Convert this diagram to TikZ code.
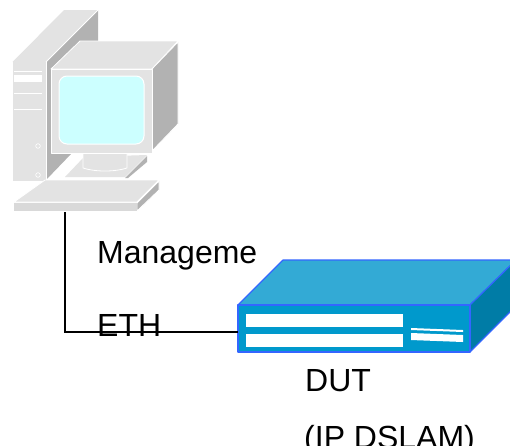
\documentclass[tikz,border=0pt]{standalone}
\usepackage{fontspec}
\setmainfont{Liberation Sans}
\definecolor{pclight}{HTML}{E3E3E3}
\definecolor{pcdark}{HTML}{B2B2B2}
\definecolor{pcscreen}{HTML}{CCFFFF}
\definecolor{dutfront}{HTML}{0099CC}
\definecolor{duttop}{HTML}{33AAD5}
\definecolor{dutside}{HTML}{007CA6}
\definecolor{dutedge}{HTML}{3366FF}
\tikzset{
    pcface/.style={fill=pclight, draw=white, line width=0.8pt, line join=round},
    pcshade/.style={fill=pcdark, draw=white, line width=0.8pt, line join=round},
    dutface/.style={draw=dutedge, line width=1.2pt, line join=round},
    label/.style={anchor=base west, inner sep=0pt, font=\fontsize{32}{32}\selectfont}
}
\begin{document}
\begin{tikzpicture}[x=1pt, y=-1pt]
            \useasboundingbox (0,0) rectangle (510,445);
            \clip (0,0) rectangle (510,445);
            % tower
            \fill [pcdark] (46,62) -- (98,10) -- (98,60) -- (72,153) -- (46,180) -- cycle;
            \fill [pclight] (12.5,62) -- (64,10) -- (98,10) -- (46,62) -- cycle;
            \draw [white, line width=0.8pt] (46,62) -- (98,10);
            \fill [pclight] (12.5,62) rectangle (46,181);
            \draw [white, line width=0.8pt] (46,62) -- (46,181);
            \draw [white, line width=0.8pt] (14,71) -- (42,71);
            \fill [white] (14,75) rectangle (42,82);
            \draw [white, line width=0.8pt] (14,93) -- (42,93);
            \draw [white, line width=0.8pt] (14,109) -- (42,109);
            \draw [white, line width=0.6pt] (38,146) circle (2.3);
            \draw [white, line width=0.6pt] (38,175) circle (2.3);
            % stand
            \fill [white] (47,181) -- (76,152) -- (150,152) -- (150,181) -- cycle;
            \fill [pclight] (65,177) -- (84,157) -- (147,155) -- (125,177) -- cycle;
            \fill [pcdark] (125,178) -- (147,156) -- (147,162) -- (128,178) -- cycle;
            \draw [pcface] (83,153) -- (83,168) .. controls (95,172) and (115,172) .. (127,168) -- (127,153) -- cycle;
            % monitor
            \draw [pcface] (51,69) -- (80,41) -- (178,41) -- (152,69) -- cycle;
            \draw [pcshade] (152,69) -- (178,42) -- (178,124) -- (152,151) -- cycle;
            \draw [pcface] (51,69) rectangle (152,153);
            \draw [fill=pcscreen, draw=white, line width=1pt, rounded corners=8pt] (59,76) rectangle (144,144);
            % keyboard
            \draw [pcface] (14,202) -- (45,180) -- (159,180) -- (137,202) -- cycle;
            \draw [pcshade] (137,203) -- (159,181) -- (159,190) -- (137,211) -- cycle;
            \fill [pclight!90!gray] (14,203) rectangle (137,211);
            \coordinate (kbdport) at (65,212);
            % dut
            \draw [dutface, fill=duttop] (238,305) -- (283,260) -- (516,260) -- (470,305) -- cycle;
            \draw [dutface, fill=dutside] (470,305) -- (516,260) -- (516,306) -- (470,352) -- cycle;
            \draw [dutface, fill=dutfront] (238,305) rectangle (470,352);
            \fill [white] (246,314) rectangle (403,327);
            \fill [white] (246,334) rectangle (403,347);
            \fill [white] (411,328) -- (463,330) -- (463,332) -- (411,330) -- cycle;
            \fill [white] (411,333) -- (463,335) -- (463,342) -- (411,340) -- cycle;
            \coordinate (dutport) at (238,332);
            % link and labels
            \draw [line width=1.3pt] (kbdport) |- (dutport);
            \node [label] (mgmt) at (97,263) {Manageme};
            \node [label] (eth) at (97,336) {ETH};
            \node [label] (dut) at (305,391) {DUT};
            \node [label] (dslam) at (304,448) {(IP DSLAM)};
        \end{tikzpicture}
\end{document}
